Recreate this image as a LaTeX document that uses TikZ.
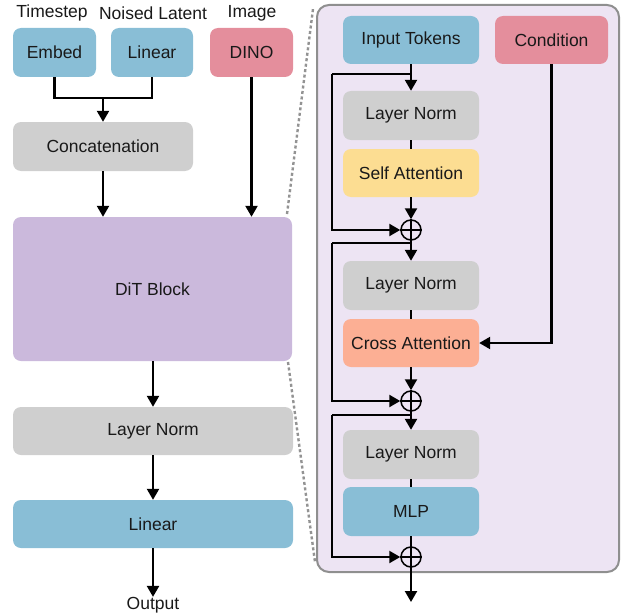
\documentclass[tikz,border=0pt]{standalone}
\usepackage{fontspec}
\setmainfont{Liberation Sans}
\usetikzlibrary{arrows.meta}
\definecolor{cblue}{HTML}{89BED6}
\definecolor{cpink}{HTML}{E48E9C}
\definecolor{cgray}{HTML}{CFCFCF}
\definecolor{cpurple}{HTML}{CBB9DC}
\definecolor{cyellow}{HTML}{FCDD92}
\definecolor{csalmon}{HTML}{FCAF94}
\definecolor{cpanel}{HTML}{EDE4F3}
\definecolor{cborder}{HTML}{8F8F8F}
\tikzset{
  box/.style={rectangle, rounded corners=8pt, inner sep=0pt, font=\fontsize{17.5}{19}\selectfont, text=black!90},
  lbl/.style={inner sep=0pt, font=\fontsize{17.5}{19}\selectfont, text=black!90},
  conn/.style={line width=2.3pt, black},
  arr/.style={conn, -{Triangle[length=11pt,width=12pt]}},
  opl/.style={circle, draw=black, line width=1.5pt, minimum size=20pt, inner sep=0pt},
  dashconn/.style={line width=2.4pt, draw=gray!85, dash pattern=on 3pt off 2.5pt},
}
\newcommand{\oplusnode}[2]{%
  \node[opl] (#1) at #2 {};
  \draw[line width=1.5pt] (#1.north) -- (#1.south) (#1.west) -- (#1.east);}
\begin{document}
\begin{tikzpicture}[x=1pt,y=-1pt]
\useasboundingbox (0,0) rectangle (628,615);
% panel
\node[rectangle, rounded corners=12pt, fill=cpanel, draw=cborder, line width=2pt, minimum width=302pt, minimum height=567pt, inner sep=0pt] (panel) at (468,288.5) {};
% labels
\node[lbl] (tslbl) at (52,13) {Timestep};
\node[lbl] (nllbl) at (153,13) {Noised Latent};
\node[lbl] (imlbl) at (252,13) {Image};
% left column
\node[box, fill=cblue, minimum width=83pt, minimum height=49pt] (embed) at (54.5,52.5) {Embed};
\node[box, fill=cblue, minimum width=82pt, minimum height=49pt] (lin1) at (152,52.5) {Linear};
\node[box, fill=cpink, minimum width=83pt, minimum height=49pt] (dino) at (251.5,52.5) {DINO};
\node[box, fill=cgray, minimum width=180pt, minimum height=49pt] (concat) at (103,146.5) {Concatenation};
\node[box, fill=cpurple, minimum width=279pt, minimum height=144pt] (dit) at (152.5,289) {DiT Block};
\node[box, fill=cgray, minimum width=280pt, minimum height=48pt] (lnout) at (153,431) {Layer Norm};
\node[box, fill=cblue, minimum width=280pt, minimum height=48pt] (linout) at (153,524) {Linear};
\node[lbl] (output) at (153,605) {Output};
\coordinate (join) at (103,98);
\draw[conn] (embed.south) |- (join);
\draw[conn] (lin1.south) |- (join);
\draw[arr] (join) -- (concat.north);
\draw[arr] (concat.south) -- (concat.south |- dit.north);
\draw[arr] (dino.south) -- (dino.south |- dit.north);
\draw[arr] (dit.south -| lnout.north) -- (lnout.north);
\draw[arr] (lnout.south) -- (linout.north);
\draw[arr] (linout.south) -- (output.north);
% dashed zoom lines
\coordinate (dz1) at (287,214);
\coordinate (dz2) at (313,9);
\coordinate (dz3) at (288,362);
\coordinate (dz4) at (315,562);
\draw[dashconn] (dz1) -- (dz2);
\draw[dashconn] (dz3) -- (dz4);
% right column
\node[box, fill=cblue, minimum width=136pt, minimum height=48pt] (itok) at (411,40) {Input Tokens};
\node[box, fill=cpink, minimum width=113pt, minimum height=48pt] (cond) at (551.5,40) {Condition};
\node[box, fill=cgray, minimum width=136pt, minimum height=49pt] (ln1) at (411,115.5) {Layer Norm};
\node[box, fill=cyellow, minimum width=136pt, minimum height=48pt] (sa) at (411,173) {Self Attention};
\node[box, fill=cgray, minimum width=136pt, minimum height=49pt] (ln2) at (411,285.5) {Layer Norm};
\node[box, fill=csalmon, minimum width=136pt, minimum height=48pt] (ca) at (411,343) {Cross Attention};
\node[box, fill=cgray, minimum width=136pt, minimum height=49pt] (ln3) at (411,454.5) {Layer Norm};
\node[box, fill=cblue, minimum width=136pt, minimum height=49pt] (mlp) at (411,511.5) {MLP};
\oplusnode{p1}{(411,230)}
\oplusnode{p2}{(411,401)}
\oplusnode{p3}{(411,557)}
\coordinate (b1) at (411,74);
\coordinate (b2) at (411,243);
\coordinate (b3) at (411,415);
\coordinate (l1) at (332,74);
\coordinate (l2) at (332,243);
\coordinate (l3) at (332,415);
\coordinate (outr) at (411,602);
\draw[arr] (itok.south) -- (ln1.north);
\draw[conn] (ln1.south) -- (sa.north);
\draw[arr] (sa.south) -- (p1.north);
\draw[conn] (b1) -- (l1);
\draw[arr] (l1) |- (p1.west);
\draw[arr] (p1.south) -- (ln2.north);
\draw[conn] (ln2.south) -- (ca.north);
\draw[arr] (ca.south) -- (p2.north);
\draw[conn] (b2) -- (l2);
\draw[arr] (l2) |- (p2.west);
\draw[arr] (cond.south) |- (ca.east);
\draw[arr] (p2.south) -- (ln3.north);
\draw[conn] (ln3.south) -- (mlp.north);
\draw[conn] (mlp.south) -- (p3.north);
\draw[conn] (b3) -- (l3);
\draw[arr] (l3) |- (p3.west);
\draw[arr] (p3.south) -- (outr);
\end{tikzpicture}
\end{document}
